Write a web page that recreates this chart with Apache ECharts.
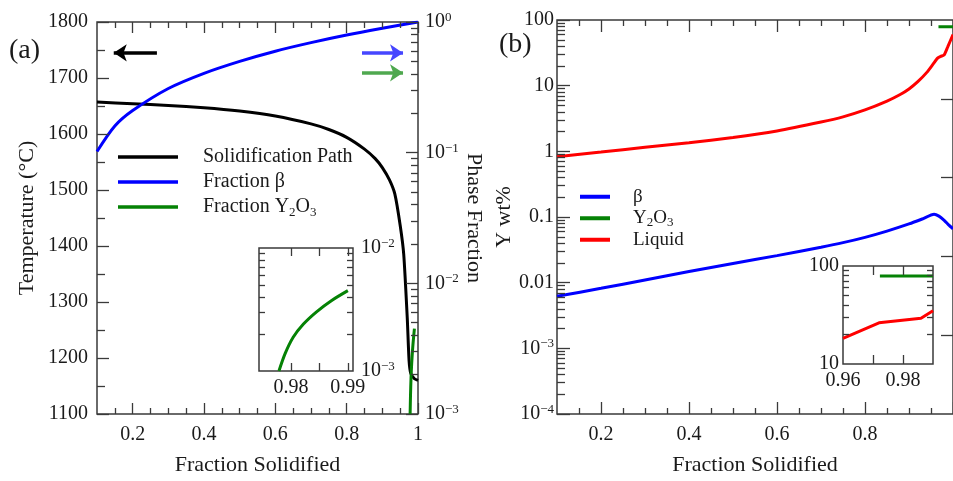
<!DOCTYPE html>
<html>
<head>
<meta charset="utf-8">
<script src="https://cdn.jsdelivr.net/npm/echarts@6/dist/echarts.min.js"></script>
<style>
  html, body { margin: 0; padding: 0; background: #fff; }
  #chart { width: 953px; height: 481px; }
</style>
</head>
<body>
<div id="chart"></div>
<script>
// ---- panel (a): solidification path + phase fractions
const fracPath = [0.1, 0.2, 0.3, 0.4, 0.5, 0.6, 0.7, 0.75, 0.8, 0.85, 0.88, 0.9, 0.92, 0.935, 0.95, 0.96, 0.97, 0.975, 0.98, 0.99, 1.0];
const tempPath = [1657, 1654, 1651, 1647, 1641, 1632, 1618, 1608, 1594, 1573, 1556, 1540, 1518, 1493, 1437, 1385, 1270, 1195, 1172, 1163, 1160];

const fracBeta = [0.1, 0.15, 0.2, 0.3, 0.4, 0.5, 0.6, 0.7, 0.8, 0.9, 1.0];
const phaseBeta = [0.102, 0.16, 0.21, 0.31, 0.405, 0.5, 0.598, 0.695, 0.795, 0.895, 1.0];

const fracOxide = [0.9779, 0.979, 0.9804, 0.9822, 0.9845, 0.9871, 0.99];
const phaseOxide = [0.001, 0.00139, 0.00188, 0.00241, 0.00303, 0.00373, 0.0045];

// ---- panel (b): Y content of each phase
const fracBetaB = [0.1, 0.2, 0.3, 0.4, 0.5, 0.6, 0.7, 0.75, 0.8, 0.85, 0.9, 0.93, 0.957, 0.968, 0.98, 0.99, 1.0];
const yBeta = [0.0062, 0.0082, 0.011, 0.0148, 0.0196, 0.0258, 0.0347, 0.0407, 0.049, 0.061, 0.0785, 0.0933, 0.11, 0.103, 0.089, 0.076, 0.066];

const fracLiq = [0.1, 0.2, 0.3, 0.4, 0.5, 0.6, 0.7, 0.75, 0.8, 0.85, 0.88, 0.9, 0.92, 0.94, 0.955, 0.965, 0.972, 0.98, 0.988, 1.0];
const yLiq = [0.83, 0.975, 1.15, 1.35, 1.62, 2.04, 2.79, 3.35, 4.27, 5.82, 7.33, 8.91, 11.5, 15.8, 21.4, 26.3, 27.9, 29.5, 38.9, 60];

const fracOxB = [0.967, 1.0];
const yOxB = [79, 79];

// inset of (b)
const fracLiqInset = [0.96, 0.972, 0.986, 0.99];
const yLiqInset = [18.3, 26.3, 29.3, 35];
const fracOxInset = [0.9723, 0.99];
const yOxInset = [79, 79];

// tick values
const xMajor = [0.2, 0.4, 0.6, 0.8, 1.0];
const xMinor = [0.15, 0.25, 0.3, 0.35, 0.45, 0.5, 0.55, 0.65, 0.7, 0.75, 0.85, 0.9, 0.95];
const tMajor = [1100, 1200, 1300, 1400, 1500, 1600, 1700, 1800];
const tMinor = [1150, 1250, 1350, 1450, 1550, 1650, 1750];

function decades(lo, hi) {
  const out = [];
  for (let e = lo; e <= hi; e++) out.push(+Math.pow(10, e).toPrecision(3));
  return out;
}
function logMinor(lo, hi) {
  const out = [];
  for (let e = lo; e < hi; e++) {
    for (let m = 2; m <= 9; m++) out.push(+(m * Math.pow(10, e)).toPrecision(3));
  }
  return out;
}

const FONT = '"Liberation Serif", "DejaVu Serif", serif';
const TXT = '#1a1a1a';
const AX = '#3a3a3a';
const BLUE = '#0000ff';
const GREEN = '#058205';
const RED = '#ff0000';

const supRich = {
  sup: { fontFamily: FONT, fontSize: 13, lineHeight: 13, verticalAlign: 'top', color: TXT }
};
const subRich = {
  sub: { fontFamily: FONT, fontSize: 13, lineHeight: 13, verticalAlign: 'bottom', color: TXT }
};

function pow10(v) {
  const e = Math.round(Math.log10(v));
  return '10{sup|' + (e < 0 ? '\u2212' + (-e) : e) + '}';
}
function plain(v) {
  return String(+(+v).toPrecision(4));
}

function pairs(xs, ys) {
  return xs.map(function (x, i) { return [x, ys[i]]; });
}

function mk(o) {
  return {
    type: o.type || 'value',
    gridIndex: o.grid,
    position: o.pos,
    min: o.min,
    max: o.max,
    logBase: 10,
    name: o.name || '',
    nameLocation: 'middle',
    nameGap: o.nameGap || 0,
    nameRotate: o.nameRotate,
    nameTextStyle: { fontFamily: FONT, fontSize: 22, color: TXT },
    axisLine: { show: false, onZero: false },
    splitLine: { show: false },
    axisTick: {
      show: true, inside: true, length: o.len, customValues: o.ticks,
      lineStyle: { color: AX, width: 1.3 }
    },
    axisLabel: o.labels ? {
      show: true, customValues: o.labels, formatter: o.fmt || plain, margin: o.margin || 8,
      fontFamily: FONT, fontSize: o.fs || 20, color: TXT, lineHeight: 22, rich: supRich
    } : { show: false },
    z: 5
  };
}

const xAxes = [
  // 0,1: (a) bottom
  mk({ grid: 0, pos: 'bottom', min: 0.1, max: 1, ticks: xMajor, len: 11, labels: xMajor, margin: 10,
       name: 'Fraction Solidified', nameGap: 40 }),
  mk({ grid: 0, pos: 'bottom', min: 0.1, max: 1, ticks: xMinor, len: 6 }),
  // 2,3: (a) top
  mk({ grid: 0, pos: 'top', min: 0.1, max: 1, ticks: xMajor, len: 11 }),
  mk({ grid: 0, pos: 'top', min: 0.1, max: 1, ticks: xMinor, len: 6 }),
  // 4,5: (a) inset
  mk({ grid: 1, pos: 'bottom', min: 0.9744, max: 0.9909, ticks: [0.98, 0.985, 0.99], len: 8,
       labels: [0.98, 0.99], margin: 6 }),
  mk({ grid: 1, pos: 'top', min: 0.9744, max: 0.9909, ticks: [0.98, 0.985, 0.99], len: 8 }),
  // 6,7: (b) bottom
  mk({ grid: 2, pos: 'bottom', min: 0.1, max: 1, ticks: xMajor, len: 12, labels: [0.2, 0.4, 0.6, 0.8], margin: 10,
       name: 'Fraction Solidified', nameGap: 40 }),
  mk({ grid: 2, pos: 'bottom', min: 0.1, max: 1, ticks: xMinor, len: 6 }),
  // 8,9: (b) top
  mk({ grid: 2, pos: 'top', min: 0.1, max: 1, ticks: xMajor, len: 12 }),
  mk({ grid: 2, pos: 'top', min: 0.1, max: 1, ticks: xMinor, len: 6 }),
  // 10,11: (b) inset
  mk({ grid: 3, pos: 'bottom', min: 0.96, max: 0.99, ticks: [0.97, 0.98], len: 9,
       labels: [0.96, 0.98], margin: 6 }),
  mk({ grid: 3, pos: 'top', min: 0.96, max: 0.99, ticks: [0.97, 0.98], len: 9 })
];

const yAxes = [
  // 0,1: (a) temperature
  mk({ grid: 0, pos: 'left', min: 1100, max: 1800, ticks: tMajor, len: 12, labels: tMajor, margin: 9,
       name: 'Temperature (\u00b0C)', nameGap: 59, nameRotate: 90 }),
  mk({ grid: 0, pos: 'left', min: 1100, max: 1800, ticks: tMinor, len: 8 }),
  // 2,3: (a) phase fraction (log)
  mk({ grid: 0, pos: 'right', type: 'log', min: 0.001, max: 1, ticks: decades(-3, 0), len: 12,
       labels: decades(-3, 0), fmt: pow10, margin: 7,
       name: 'Phase Fraction', nameGap: 42, nameRotate: -90 }),
  mk({ grid: 0, pos: 'right', type: 'log', min: 0.001, max: 1, ticks: logMinor(-3, 0), len: 7 }),
  // 4,5: (a) inset
  mk({ grid: 1, pos: 'left', type: 'log', min: 0.001, max: 0.01, ticks: logMinor(-3, -2), len: 6 }),
  mk({ grid: 1, pos: 'right', type: 'log', min: 0.001, max: 0.01, ticks: logMinor(-3, -2), len: 6,
       labels: [0.001, 0.01], fmt: pow10, margin: 8 }),
  // 6,7: (b) Y wt% (log)
  mk({ grid: 2, pos: 'left', type: 'log', min: 0.0001, max: 100, ticks: decades(-4, 2), len: 13,
       labels: decades(-4, 2), margin: 3,
       fmt: function (v) { return v >= 0.01 ? plain(v) : pow10(v); },
       name: 'Y wt%', nameGap: 40, nameRotate: 90 }),
  mk({ grid: 2, pos: 'left', type: 'log', min: 0.0001, max: 100, ticks: logMinor(-4, 2), len: 8 }),
  // 8: (b) right frame ticks
  mk({ grid: 2, pos: 'right', min: 0, max: 5, ticks: [1, 2, 3, 4], len: 12 }),
  // 9,10: (b) inset
  mk({ grid: 3, pos: 'left', type: 'log', min: 10, max: 100, ticks: logMinor(1, 2), len: 6,
       labels: [10, 100], margin: 4 }),
  mk({ grid: 3, pos: 'right', type: 'log', min: 10, max: 100, ticks: logMinor(1, 2), len: 6 })
];

function line(name, color, xi, yi, data, extra) {
  return Object.assign({
    name: name,
    type: 'line',
    xAxisIndex: xi,
    yAxisIndex: yi,
    data: data,
    showSymbol: false,
    symbol: 'none',
    smooth: 0.3,
    clip: true,
    color: color,
    lineStyle: { color: color, width: 3 },
    z: 3
  }, extra || {});
}

function arrow(from, to, color) {
  return {
    silent: true,
    symbol: ['none', 'arrow'],
    symbolSize: 13,
    label: { show: false },
    lineStyle: { color: color, width: 3.5, type: 'solid' },
    data: [[{ coord: from }, { coord: to }]]
  };
}

const option = {
  animation: false,
  backgroundColor: '#fff',
  textStyle: { fontFamily: FONT },
  grid: [
    { left: 97, top: 22, width: 321, height: 393, show: true, borderColor: AX, borderWidth: 1.5, backgroundColor: 'transparent' },
    { left: 259, top: 248, width: 94, height: 123, show: true, borderColor: AX, borderWidth: 1.5, backgroundColor: '#fff' },
    { left: 557, top: 20, width: 400, height: 394, show: true, borderColor: AX, borderWidth: 1.5, backgroundColor: 'transparent' },
    { left: 843, top: 266, width: 90, height: 98, show: true, borderColor: AX, borderWidth: 1.5, backgroundColor: '#fff' }
  ],
  xAxis: xAxes,
  yAxis: yAxes,
  legend: [
    {
      data: ['Solidification Path', 'Fraction \u03b2', 'Fraction Y2O3'],
      left: 118, top: 145, orient: 'vertical', padding: 0,
      icon: 'rect', itemWidth: 60, itemHeight: 3.5, itemGap: 1,
      selectedMode: false,
      formatter: function (n) { return n.replace('Y2O3', 'Y{sub|2}O{sub|3}'); },
      textStyle: { fontFamily: FONT, fontSize: 20, color: TXT, lineHeight: 24, padding: [0, 0, 0, 20], rich: subRich }
    },
    {
      data: ['\u03b2', 'Y2O3', 'Liquid'],
      left: 580, top: 186, orient: 'vertical', padding: 0,
      icon: 'rect', itemWidth: 30, itemHeight: 4, itemGap: 0,
      selectedMode: false,
      formatter: function (n) { return n.replace('Y2O3', 'Y{sub|2}O{sub|3}'); },
      textStyle: { fontFamily: FONT, fontSize: 19, color: TXT, lineHeight: 21.5, padding: [0, 0, 0, 18], rich: subRich }
    }
  ],
  graphic: [
    { type: 'text', left: 9, top: 37, style: { text: '(a)', font: '28px "Liberation Serif"', fill: TXT } },
    { type: 'text', left: 499, top: 31, style: { text: '(b)', font: '28px "Liberation Serif"', fill: TXT } }
  ],
  series: [
    line('Solidification Path', '#000', 0, 0, pairs(fracPath, tempPath), {
      smooth: 0.2,
      markLine: arrow([0.268, 1745], [0.147, 1745], '#000')
    }),
    line('Fraction \u03b2', BLUE, 0, 2, pairs(fracBeta, phaseBeta), {
      markLine: arrow([0.843, 0.58], [0.958, 0.58], '#4646ff')
    }),
    line('Fraction Y2O3', GREEN, 0, 2, pairs(fracOxide, phaseOxide), {
      markLine: arrow([0.843, 0.408], [0.958, 0.408], '#4fa84f')
    }),
    line('inset Y2O3 a', GREEN, 4, 4, pairs(fracOxide, phaseOxide)),
    line('\u03b2', BLUE, 6, 6, pairs(fracBetaB, yBeta), { smooth: 0.2 }),
    line('Y2O3', GREEN, 6, 6, pairs(fracOxB, yOxB), { smooth: false }),
    line('Liquid', RED, 6, 6, pairs(fracLiq, yLiq), { smooth: 0.2 }),
    line('inset liquid b', RED, 10, 9, pairs(fracLiqInset, yLiqInset), { smooth: false }),
    line('inset Y2O3 b', GREEN, 10, 9, pairs(fracOxInset, yOxInset), { smooth: false })
  ]
};

const chart = echarts.init(document.getElementById('chart'));
chart.setOption(option);
</script>
</body>
</html>
